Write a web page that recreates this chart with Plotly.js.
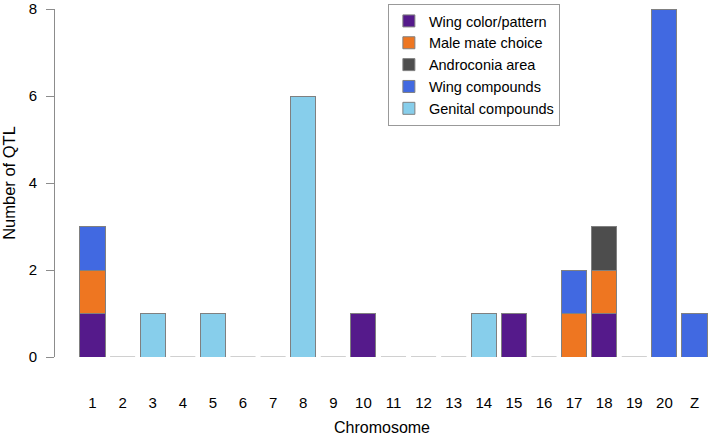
<!DOCTYPE html>
<html>
<head>
<meta charset="utf-8">
<script src="https://cdn.plot.ly/plotly-3.0.1.min.js"></script>
<style>html,body{margin:0;padding:0;background:#fff;}#chart{width:709px;height:436px;}</style>
</head>
<body>
<div id="chart"></div>
<script>
var chromosomes = ["1","2","3","4","5","6","7","8","9","10","11","12","13","14","15","16","17","18","19","20","Z"];
var wingColorPattern = [1,0,0,0,0,0,0,0,0,1,0,0,0,0,1,0,0,1,0,0,0];
var maleMateChoice   = [1,0,0,0,0,0,0,0,0,0,0,0,0,0,0,0,1,1,0,0,0];
var androconiaArea   = [0,0,0,0,0,0,0,0,0,0,0,0,0,0,0,0,0,1,0,0,0];
var wingCompounds    = [1,0,0,0,0,0,0,0,0,0,0,0,0,0,0,0,1,0,0,8,1];
var genitalCompounds = [0,0,1,0,1,0,0,6,0,0,0,0,0,1,0,0,0,0,0,0,0];
var seriesNames = ["Wing color/pattern","Male mate choice","Androconia area","Wing compounds","Genital compounds"];
var seriesValues = [wingColorPattern, maleMateChoice, androconiaArea, wingCompounds, genitalCompounds];
var yTicks = [0,2,4,6,8];
var colors = ["#551A8B","#EE7621","#4D4D4D","#4169E1","#87CEEB"];

var idx = chromosomes.map(function(c,i){return i;});
var bargap = 0.2/1.2;
var barW = 1 - bargap;

var traces = seriesNames.map(function(name, k){
  return {
    type: "bar",
    name: name,
    x: idx,
    y: seriesValues[k],
    marker: {color: colors[k], line: {color: "#808080", width: 1}},
    hoverinfo: "x+y+name"
  };
});

// zero-height bars are drawn by R as a flat grey line at the baseline
var bx = [], by = [];
idx.forEach(function(i){
  var total = seriesValues.reduce(function(s, arr){return s + arr[i];}, 0);
  if (total === 0) {
    bx.push(i - barW/2, i + barW/2, null);
    by.push(0, 0, null);
  }
});
traces.push({
  type: "scatter", mode: "lines", x: bx, y: by, showlegend: false,
  line: {color: "#a0a0a0", width: 1}, hoverinfo: "skip", cliponaxis: false
});

var font = "Liberation Sans, Arial, Helvetica, sans-serif";
var layout = {
  width: 709, height: 436,
  margin: {l: 55, r: 0, t: 9, b: 79, pad: 0},
  paper_bgcolor: "#ffffff", plot_bgcolor: "#ffffff",
  font: {family: font, size: 15, color: "#000"},
  barmode: "stack",
  bargap: bargap,
  showlegend: true,
  legend: {
    x: 0.509, y: 1.0144, xanchor: "left", yanchor: "top",
    traceorder: "normal",
    bordercolor: "#999999", borderwidth: 1, bgcolor: "#ffffff",
    font: {family: font, size: 14.5, color: "#000"},
    tracegroupgap: 0
  },
  xaxis: {
    range: [-1.246, 20.482],
    tickmode: "array", tickvals: idx, ticktext: chromosomes,
    showline: false, showgrid: false, zeroline: false,
    ticks: "", ticklabelstandoff: 35,
    tickfont: {family: font, size: 15, color: "#000"},
    title: {text: "Chromosome", font: {family: font, size: 16, color: "#000"}, standoff: 12},
    automargin: false
  },
  yaxis: {
    range: [0, 8.0001],
    tickmode: "array", tickvals: yTicks, ticktext: yTicks.map(String),
    showline: true, linecolor: "#8c8c8c", linewidth: 1,
    showgrid: false, zeroline: false,
    ticks: "outside", ticklen: 8, tickcolor: "#8c8c8c", tickwidth: 1,
    ticklabelstandoff: 6, ticklabeloverflow: "allow",
    tickfont: {family: font, size: 15, color: "#000"},
    title: {text: "Number of QTL", font: {family: font, size: 16.5, color: "#000"}, standoff: 13},
    automargin: false
  }
};

Plotly.newPlot("chart", traces, layout, {displayModeBar: false, staticPlot: true});
</script>
</body>
</html>
